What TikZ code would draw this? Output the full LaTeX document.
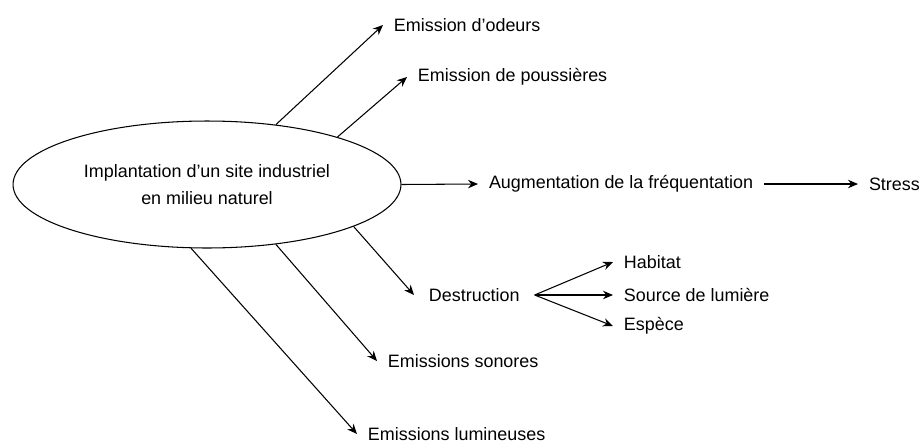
\documentclass[tikz,border=0pt]{standalone}
\usepackage{fontspec}
\setmainfont{Liberation Sans}
\usetikzlibrary{arrows.meta,shapes.geometric}

\begin{document}
\begin{tikzpicture}[x=0.02cm,y=-0.02cm]
        \tikzstyle{every node}=[font=\fontsize{10.2}{15.3}\selectfont]
        \tikzstyle{lbl}=[anchor=west,inner sep=0pt,outer xsep=0.22cm]
        \tikzstyle{arr}=[-{Stealth[length=0.2cm,width=0.17cm]},line width=0.6pt]
        \useasboundingbox (0,0) rectangle (921,447);

        %%% Centre
        \node[draw,ellipse,line width=0.6pt,minimum width=7.76cm,minimum height=2.54cm,inner sep=0pt,align=center] (site) at (207,184.5) {Implantation d’un site industriel\\en milieu naturel};

        %%% Effects
        \node[lbl] (odeurs) at (383,25) {Emission d’odeurs};
        \node[lbl] (pouss) at (407,77) {Emission de poussières};
        \node[lbl] (freq) at (478,184) {Augmentation de la fréquentation};
        \node[lbl] (stress) at (858,184) {Stress};
        \node[lbl,outer xsep=0.3cm] (destr) at (414,295) {Destruction};
        \node[lbl] (sonores) at (377,361) {Emissions sonores};
        \node[lbl] (lumin) at (357,434) {Emissions lumineuses};

        %%% Destruction
        \node[lbl] (habitat) at (613,262) {Habitat};
        \node[lbl] (lumiere) at (613,295) {Source de lumière};
        \node[lbl] (espece) at (613,326) {Espèce};

        \draw[arr] (site.41.7) -- (odeurs.west);
        \draw[arr] (site.20) -- (pouss.west);
        \draw[arr] (site.east) -- (freq.west);
        \draw[arr] (freq.east) -- (stress.west);
        \draw[arr] (site.-16) -- (destr.west);
        \draw[arr] (site.-41.8) -- (sonores.west);
        \draw[arr] (site.-104.1) -- (lumin.west);
        \draw[arr] (destr.east) -- (habitat.west);
        \draw[arr] (destr.east) -- (lumiere.west);
        \draw[arr] (destr.east) -- (espece.west);
\end{tikzpicture}
\end{document}
